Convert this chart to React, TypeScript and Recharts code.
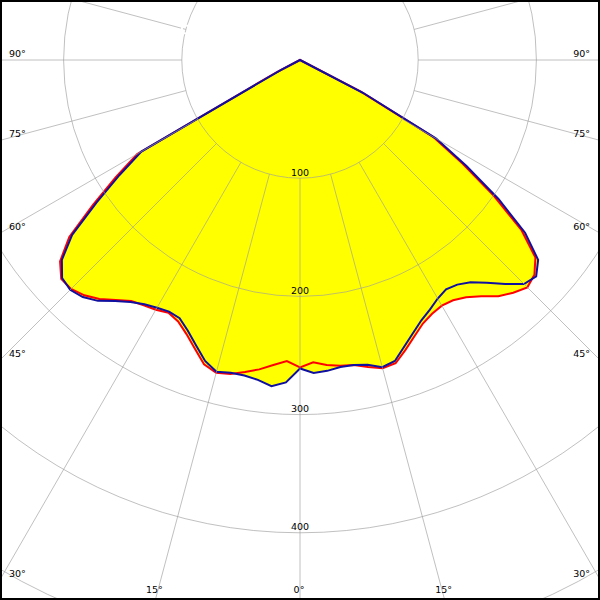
import { RadarChart, Radar, PolarGrid, PolarAngleAxis, PolarRadiusAxis } from 'recharts';

// gamma (deg from nadir) where intensities were read
const gammaAngles = [
  0, 2.5, 5, 7.5, 10, 12.5, 15, 17.5, 20, 22.5, 25, 27.5, 30, 32.5, 35, 37.5, 40, 42.5,
  45, 47.5, 50, 52.5, 55, 57.5, 60, 62.5, 65, 67.5, 70, 72.5, 75, 77.5, 80, 82.5, 85, 87.5, 90,
];

// red curve, left and right half
const redLeft = [
  260, 255, 259, 264, 268, 272, 274, 270, 260, 251, 244, 241, 244, 246, 249, 256, 264, 270,
  274, 274, 265, 246, 214, 185, 159, 22, 0, 0, 0, 0, 0, 0, 0, 0, 0, 0, 0,
];
const redRight = [
  260, 256, 259, 261, 262, 266, 270, 269, 261, 253, 246, 242, 240, 241, 245, 252, 261, 267,
  272, 269, 260, 236, 200, 163, 130, 58, 0, 0, 0, 0, 0, 0, 0, 0, 0, 0, 0,
];

// blue curve, left and right half
const blueLeft = [
  261, 273, 277, 273, 271, 271, 273, 267, 257, 248, 241, 240, 242, 245, 250, 257, 266, 272,
  275, 273, 263, 243, 210, 181, 155, 18, 0, 0, 0, 0, 0, 0, 0, 0, 0, 0, 0,
];
const blueRight = [
  261, 265, 264, 262, 262, 264, 269, 267, 258, 250, 243, 238, 233, 230, 232, 237, 246, 257,
  268, 271, 263, 240, 205, 167, 133, 60, 0, 0, 0, 0, 0, 0, 0, 0, 0, 0, 0,
];

// spokes every 15 deg, clockwise from nadir through the left side
const spokeBearings = [0, 15, 30, 45, 60, 75, 90, 105, 120, 135, 150, 165, 180, 195, 210, 225, 240, 255, 270, 285, 300, 315, 330, 345];
const spokeLabels = ['0°', '15°', '30°', '45°', '60°', '75°', '90°', '', '', '', '', '', '', '', '', '', '', '', '90°', '75°', '60°', '45°', '30°', '15°'];
const radiusTicks = [100, 200, 300, 400, 500, 600];

const W = 600;
const H = 600;
const CX = 300;
const CY = 60;
const PX_PER_UNIT = 1.182;
const FONT = 'DejaVu Sans, Verdana, sans-serif';

// full circle, 2.5 deg steps: nadir -> left -> zenith -> right
const polarData: { key: string; red: number; blue: number }[] = [];
for (let i = 0; i < 144; i++) {
  const bearing = i * 2.5;
  const left = bearing <= 180;
  const gamma = left ? bearing : 360 - bearing;
  const idx = gammaAngles.indexOf(gamma);
  polarData.push({
    key: (left ? 'L' : 'R') + gamma,
    red: idx >= 0 ? (left ? redLeft : redRight)[idx] : 0,
    blue: idx >= 0 ? (left ? blueLeft : blueRight)[idx] : 0,
  });
}

// grid chart rows; "inner" sits on the 100 ring so the radius axis has something to bind to
const spokeData = spokeBearings.map((b, i) => ({ bearing: b, label: spokeLabels[i], inner: 100 }));

function AngleTick(props: any) {
  const { x, y, payload } = props;
  const i = spokeBearings.indexOf(payload.value);
  const label = spokeLabels[i];
  if (!label) return null;
  const ux = x - CX;
  const uy = y - CY;
  let tx = Infinity;
  let ty = Infinity;
  if (ux < -1e-6) tx = -CX / ux;
  else if (ux > 1e-6) tx = (W - CX) / ux;
  if (uy > 1e-6) ty = (H - CY) / uy;
  else if (uy < -1e-6) ty = -CY / uy;
  if (tx < ty) {
    const ey = CY + uy * tx;
    return (
      <text x={ux < 0 ? 9 : 590} y={ey - 3} textAnchor={ux < 0 ? 'start' : 'end'} fontSize={9.5} fontFamily={FONT} fill="#000">
        {label}
      </text>
    );
  }
  const ex = CX + ux * ty;
  return (
    <text x={ex - 1} y={593} textAnchor="middle" fontSize={9.5} fontFamily={FONT} fill="#000">
      {label}
    </text>
  );
}

function RadiusTick(props: any) {
  const { x, y, payload } = props;
  // rings past the frame carry no label
  if (y > H - 10) return null;
  return (
    <text x={x} y={y - 2.5} textAnchor="middle" fontSize={9.5} fontFamily={FONT} fill="#000">
      {payload.value}
    </text>
  );
}

const noMargin = { top: 0, right: 0, bottom: 0, left: 0 };

export default function App() {
  return (
    <div style={{ position: 'fixed', left: 0, top: 0, width: W, height: H, overflow: 'hidden', background: '#fff' }}>
      <div style={{ position: 'absolute', left: 0, top: 0 }}>
        <RadarChart
          width={W}
          height={H}
          cx={CX}
          cy={CY}
          outerRadius={500 * PX_PER_UNIT}
          startAngle={-90}
          endAngle={-450}
          data={polarData}
          margin={noMargin}
        >
          <PolarAngleAxis dataKey="key" tick={false} axisLine={false} tickLine={false} />
          <PolarRadiusAxis type="number" domain={[0, 500]} tick={false} axisLine={false} />
          <Radar dataKey="red" fill="#ffff00" fillOpacity={1} stroke="none" isAnimationActive={false} />
          <Radar dataKey="blue" fill="#ffff00" fillOpacity={1} stroke="none" isAnimationActive={false} />
          <Radar dataKey="red" fill="none" fillOpacity={0} stroke="#ff0000" strokeWidth={2} isAnimationActive={false} />
          <Radar dataKey="blue" fill="none" fillOpacity={0} stroke="#1010a0" strokeWidth={2} isAnimationActive={false} />
        </RadarChart>
      </div>
      <div style={{ position: 'absolute', left: 0, top: 0 }}>
        <RadarChart
          width={W}
          height={H}
          cx={CX}
          cy={CY}
          innerRadius={100 * PX_PER_UNIT}
          outerRadius={600 * PX_PER_UNIT}
          startAngle={-90}
          endAngle={-450}
          data={spokeData}
          margin={noMargin}
        >
          <PolarGrid gridType="circle" stroke="#9c9c9c" strokeOpacity={0.64} />
          <PolarAngleAxis dataKey="bearing" axisLine={false} tickLine={false} tick={AngleTick} />
          <PolarRadiusAxis angle={-90} type="number" domain={[100, 600]} ticks={radiusTicks} axisLine={false} tick={RadiusTick} />
          <Radar dataKey="inner" fill="none" fillOpacity={0} stroke="none" isAnimationActive={false} />
        </RadarChart>
      </div>
      <div style={{ position: 'absolute', inset: 0, border: '2px solid #000', boxSizing: 'border-box', pointerEvents: 'none' }} />
    </div>
  );
}
